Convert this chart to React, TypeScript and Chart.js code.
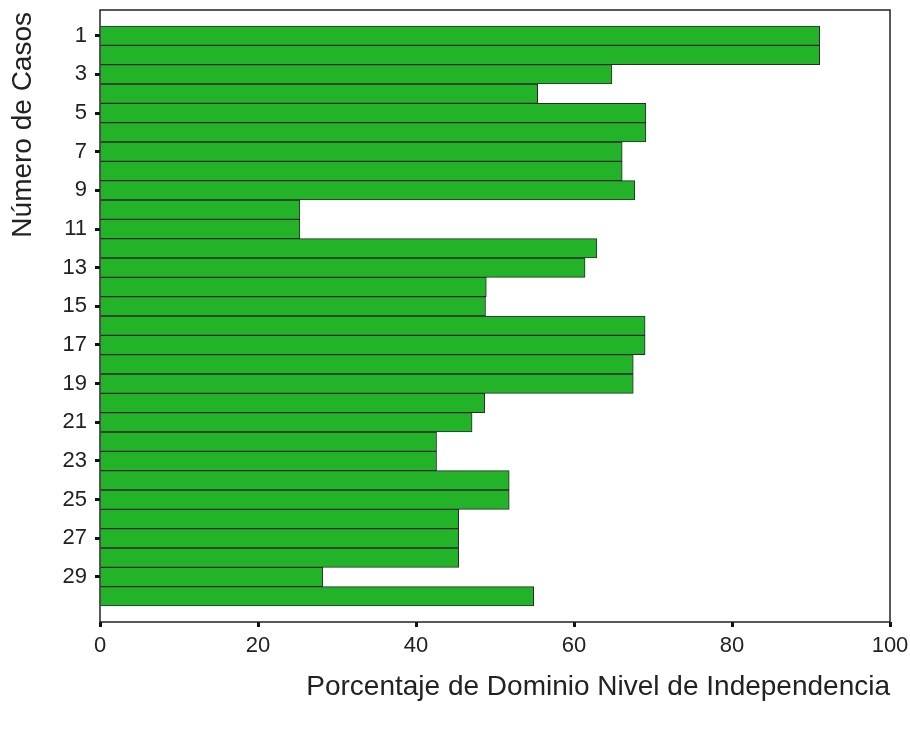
import React, { useEffect, useRef } from "react";
import { Chart, registerables } from "chart.js";

Chart.register(...registerables);

const cases: number[] = Array.from({ length: 30 }, (_, i) => i + 1);
const values: number[] = [
  91.1, 91.1, 64.8, 55.4, 69.1, 69.1, 66.1, 66.1, 67.7, 25.3,
  25.3, 62.9, 61.4, 48.9, 48.8, 69.0, 69.0, 67.5, 67.5, 48.7,
  47.1, 42.6, 42.6, 51.8, 51.8, 45.4, 45.4, 45.4, 28.2, 54.9,
];
const yTickValues: number[] = [1, 3, 5, 7, 9, 11, 13, 15, 17, 19, 21, 23, 25, 27, 29];
const xTickValues: number[] = [0, 20, 40, 60, 80, 100];
const yTitle = "Número de Casos";
const xTitle = "Porcentaje de Dominio Nivel de Independencia";

const FONT = "'Liberation Sans', Arial, sans-serif";

const frame = {
  id: "frame",
  afterDatasetsDraw(chart: any) {
    const { ctx, chartArea } = chart;
    ctx.save();
    ctx.strokeStyle = "#222";
    ctx.lineWidth = 1.5;
    ctx.strokeRect(chartArea.left, chartArea.top, chartArea.right - chartArea.left, chartArea.bottom - chartArea.top);
    ctx.restore();
  },
};

const yTitlePlugin = {
  id: "yTitlePlugin",
  afterDraw(chart: any) {
    const { ctx, chartArea } = chart;
    ctx.save();
    ctx.font = `28px ${FONT}`;
    ctx.fillStyle = "#222";
    ctx.translate(23, chartArea.top + 2);
    ctx.rotate(-Math.PI / 2);
    ctx.textAlign = "right";
    ctx.textBaseline = "middle";
    ctx.fillText(yTitle, 0, 0);
    ctx.restore();
  },
};

export default function App() {
  const ref = useRef<HTMLCanvasElement | null>(null);
  useEffect(() => {
    if (!ref.current) return;
    Chart.defaults.font.family = FONT;
    Chart.defaults.color = "#222";
    const chart = new Chart(ref.current, {
      type: "bar",
      data: {
        datasets: [
          {
            data: cases.map((c, i) => ({ x: values[i], y: c })),
            backgroundColor: "#22b328",
            borderColor: "#2a2a2a",
            borderWidth: 1,
            barPercentage: 1,
            categoryPercentage: 1,
          },
        ],
      },
      options: {
        indexAxis: "y",
        animation: false,
        responsive: false,
        devicePixelRatio: 1,
        layout: { padding: { left: 0, right: 20, top: 10, bottom: 0 } },
        plugins: { legend: { display: false }, tooltip: { enabled: false } },
        scales: {
          y: {
            type: "linear",
            reverse: true,
            min: -0.33,
            max: 31.33,
            offset: false,
            grid: { offset: false, drawOnChartArea: false, drawTicks: true, tickLength: 5, tickWidth: 3, tickColor: "#111" },
            border: { display: false },
            afterBuildTicks: (s: any) => {
              s.ticks = yTickValues.map((v) => ({ value: v }));
            },
            afterFit: (s: any) => {
              s.width = 100;
              s.paddingTop = 0;
              s.paddingBottom = 0;
            },
            ticks: {
              font: { size: 22 },
              padding: 8,
              callback: (v: any) => String(v),
            },
            title: { display: false },
          },
          x: {
            type: "linear",
            min: 0,
            max: 100,
            offset: false,
            grid: { offset: false, drawOnChartArea: false, drawTicks: true, tickLength: 5, tickWidth: 3, tickColor: "#111" },
            border: { display: false },
            afterBuildTicks: (s: any) => {
              s.ticks = xTickValues.map((v) => ({ value: v }));
            },
            afterFit: (s: any) => {
              s.height = 110;
              s.paddingLeft = 0;
              s.paddingRight = 0;
            },
            ticks: {
              font: { size: 22 },
              padding: 6,
              maxRotation: 0,
              callback: (v: any) => String(v),
            },
            title: {
              display: true,
              text: xTitle,
              align: "end",
              font: { size: 28 },
              padding: { top: 0, bottom: 28 },
            },
          },
        },
      },
      plugins: [frame, yTitlePlugin],
    } as any);
    return () => chart.destroy();
  }, []);
  return (
    <div style={{ position: "absolute", left: 0, top: 0, width: 910, height: 732, background: "#fff" }}>
      <canvas ref={ref} width={910} height={732} />
    </div>
  );
}
